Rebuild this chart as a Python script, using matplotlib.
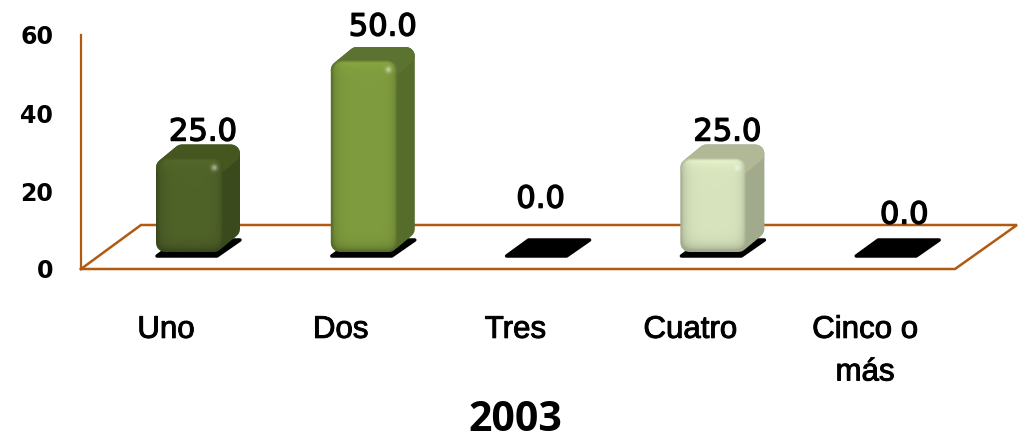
import matplotlib
matplotlib.use('Agg')
import matplotlib.pyplot as plt
import matplotlib.patheffects as pe
from matplotlib.patches import Polygon
from matplotlib.transforms import Affine2D, ScaledTranslation
from matplotlib.colors import to_rgb
import numpy as np

categories = ['Uno', 'Dos', 'Tres', 'Cuatro', 'Cinco o\nmás']
values = [25.0, 50.0, 0.0, 25.0, 0.0]
y_ticks = [0, 20, 40, 60]
title = '2003'

# front / side / top colours of each bar
front_colors = ['#4f6228', '#7f9c3e', '#4f6228', '#d7e4bd', '#4f6228']
side_colors = ['#3a4a1c', '#566c2a', '#3a4a1c', '#a2aa8c', '#3a4a1c']
top_colors = ['#46561f', '#5b7230', '#46561f', '#b0b896', '#46561f']
# where the value label sits, in points away from (category centre, value)
label_dx = [24.8, 28.4, 16.2, 24.8, 26.3]
label_dy = [28.4, 33.8, 50.3, 28.4, 38.8]

W, H = 1022, 440
LEFT, RIGHT, BASE, TOP = 81, 955, 269, 35
BROWN = '#b05a12'

fig = plt.figure(figsize=(W / 100, H / 100), dpi=100, facecolor='white')
ax = fig.add_axes([LEFT / W, 1 - BASE / H, (RIGHT - LEFT) / W, (BASE - TOP) / H])
ax.set_xlim(0, 5)
ax.set_ylim(0, 60)
ax.patch.set_visible(False)

px_x = (RIGHT - LEFT) / 5
px_y = (BASE - TOP) / 60
to_px = Affine2D().scale(1 / px_x, 1 / px_y) + ax.transData
thick = [pe.withStroke(linewidth=0.7, foreground='black')]
thicker = [pe.withStroke(linewidth=1.0, foreground='black')]


def bevel(front, w, h):
    # shaded front face with soft rounded edges and a small highlight
    w, h = int(w), int(h)
    ys, xs = np.mgrid[0:h, 0:w]
    left = np.exp(-xs / 5)
    right = np.exp(-(w - 1 - xs) / 4)
    bottom = np.exp(-(h - 1 - ys) / 5)
    top = np.exp(-ys / 5)
    k = 1 - 0.22 * left - 0.22 * right - 0.3 * bottom + 0.12 * top
    spot = 0.5 * np.exp(-(((xs - (w - 10)) / 3) ** 2 + ((ys - 9) / 3) ** 2))
    rgb = np.array(to_rgb(front))
    img = rgb[None, None, :] * k[:, :, None]
    img = img + (1 - img) * spot[:, :, None]
    # rounded rectangle distance, used to fade the border into the block
    r = 11
    qx = np.abs(xs - (w - 1) / 2) - (w / 2 - r)
    qy = np.abs(ys - (h - 1) / 2) - (h / 2 - r)
    dist = np.hypot(np.maximum(qx, 0), np.maximum(qy, 0)) + np.minimum(np.maximum(qx, qy), 0) - r
    alpha = np.clip(-dist / 3, 0, 1)
    return np.dstack([np.clip(img, 0, 1), alpha])


# floor, back edge and axes
ax.plot([0, 60, 60 + 876, RIGHT - LEFT, 0], [0, 44, 44, 0, 0], color=BROWN, lw=1.8,
        transform=to_px, clip_on=False, zorder=1, solid_joinstyle='miter')
for side in ['top', 'right', 'bottom']:
    ax.spines[side].set_visible(False)
ax.spines['left'].set_color(BROWN)
ax.spines['left'].set_linewidth(1.6)

for i, v in enumerate(values):
    x0 = i * px_x
    # shadow on the floor
    ax.add_patch(Polygon([[x0 + 76, 13], [x0 + 136, 13], [x0 + 159, 29], [x0 + 98, 29]],
                         closed=True, fc='black', ec='black', lw=2.5, joinstyle='round',
                         transform=to_px, zorder=2))
    if v == 0:
        continue
    fl, fw = x0 + 75, 67
    fb, ft = 17, v * px_y + 13
    dep_x, dep_y = 17, 14
    r = 9
    lw = 2 * r * 0.72
    # whole block as one rounded outline, then the top face over it
    ax.add_patch(Polygon([[fl + r, fb + r], [fl + fw - r, fb + r], [fl + fw + dep_x - r, fb + dep_y + r],
                          [fl + fw + dep_x - r, ft + dep_y - r], [fl + dep_x + r, ft + dep_y - r],
                          [fl + r, ft - r]],
                         closed=True, fc=side_colors[i], ec=side_colors[i], lw=lw, joinstyle='round',
                         transform=to_px, zorder=3))
    ax.add_patch(Polygon([[fl + r, ft - r], [fl + fw - r, ft - r], [fl + fw + dep_x - r, ft + dep_y - r],
                          [fl + dep_x + r, ft + dep_y - r]],
                         closed=True, fc=top_colors[i], ec=top_colors[i], lw=lw, joinstyle='round',
                         transform=to_px, zorder=3))
    # front face
    ax.imshow(bevel(front_colors[i], fw, ft - fb),
              extent=[fl / px_x, (fl + fw) / px_x, fb / px_y, ft / px_y],
              aspect='auto', zorder=4, interpolation='bilinear')

ax.set_xlim(0, 5)
ax.set_ylim(0, 60)

ax.set_yticks(y_ticks)
ax.set_yticklabels([str(t) for t in y_ticks])
ax.tick_params(axis='y', length=0, pad=20)
for t in ax.get_yticklabels():
    t.set_fontfamily(['DejaVu Sans'])
    t.set_fontsize(17)
    t.set_fontweight('bold')
ax.set_xticks(np.arange(len(categories)) + 0.5)
ax.set_xticklabels(categories)
ax.tick_params(axis='x', length=0, pad=33)
shift = ScaledTranslation(-2.5 / 100, 0, fig.dpi_scale_trans)
for t in ax.get_xticklabels():
    t.set_fontfamily(['Liberation Sans Narrow', 'Liberation Sans'])
    t.set_fontsize(22.5)
    t.set_linespacing(1.55)
    t.set_path_effects(thick)
    t.set_transform(t.get_transform() + shift)

for i, v in enumerate(values):
    ax.annotate(f'{v:.1f}', (i + 0.5, v), xytext=(label_dx[i], label_dy[i]), textcoords='offset points',
                ha='center', va='center', fontsize=22, color='black', zorder=6, annotation_clip=False,
                family=['DejaVu Sans'], path_effects=thicker)

fig.text(515 / W, 1 - 420 / H, title, ha='center', va='center', fontsize=29.5, fontweight='bold',
         family=['Open Sans', 'DejaVu Sans'])

fig.savefig('out.png', dpi=100, facecolor='white')
